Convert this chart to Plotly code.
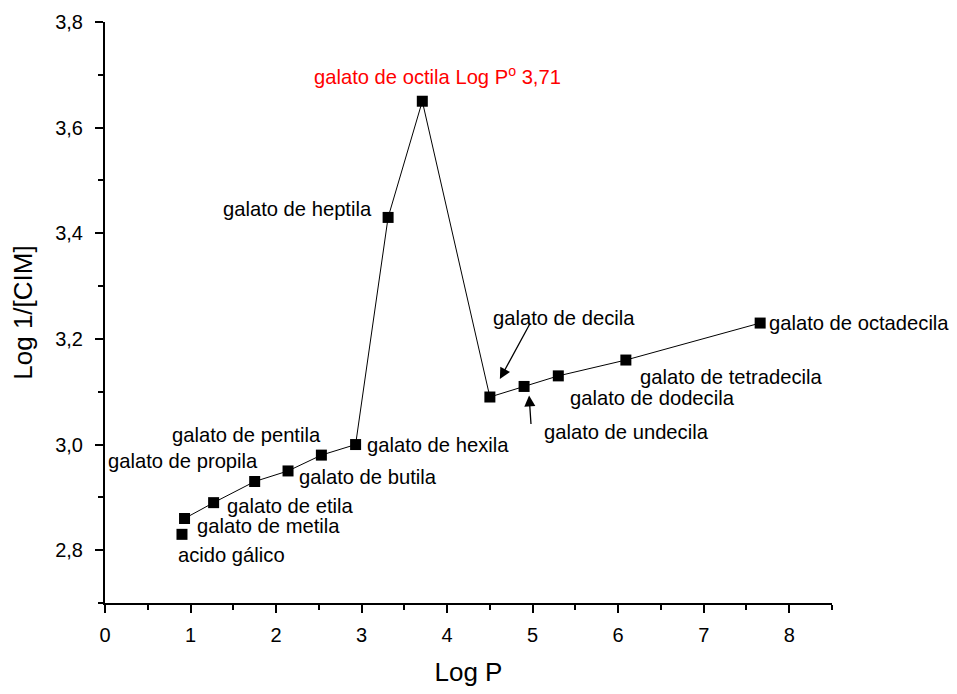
import plotly.graph_objects as go

# Data
names = ["acido gálico", "galato de metila", "galato de etila", "galato de propila",
         "galato de butila", "galato de pentila", "galato de hexila", "galato de heptila",
         "galato de octila", "galato de decila", "galato de undecila", "galato de dodecila",
         "galato de tetradecila", "galato de octadecila"]
log_p = [0.90, 0.93, 1.27, 1.75, 2.14, 2.53, 2.93, 3.31, 3.71, 4.50, 4.90, 5.30, 6.09, 7.66]
log_cim = [2.83, 2.86, 2.89, 2.93, 2.95, 2.98, 3.00, 3.43, 3.65, 3.09, 3.11, 3.13, 3.16, 3.23]

FONT = "Arial, Liberation Sans, sans-serif"

fig = go.Figure()
# connected series (galato de metila .. octadecila)
fig.add_trace(go.Scatter(x=log_p[1:], y=log_cim[1:], mode="lines+markers",
                         line=dict(color="black", width=1),
                         marker=dict(symbol="square", size=11, color="black"),
                         showlegend=False, hoverinfo="skip"))
# acido gálico (not connected)
fig.add_trace(go.Scatter(x=log_p[:1], y=log_cim[:1], mode="markers",
                         marker=dict(symbol="square", size=11, color="black"),
                         showlegend=False, hoverinfo="skip"))

# label placement: (xanchor, xshift, yshift)
place = [
    ("left", -6, -21),
    ("left", 10, -8),
    ("left", 11, -3),
    ("right", 5, 21),
    ("left", 9, -6),
    ("right", 2, 20),
    ("left", 9, 0),
    ("right", -14, 8),
    ("center", 15, 26),
    ("left", 1, 79),
    ("left", 18, -46),
    ("left", 10, -22),
    ("left", 12, -17),
    ("left", 7, 0),
]

annotations = []
for i, (nm, xv, yv) in enumerate(zip(names, log_p, log_cim)):
    xa, xs, ys = place[i]
    txt = nm
    color = "black"
    if nm == "galato de octila":
        txt = "galato de octila Log P<sup>o</sup> 3,71"
        color = "red"
    annotations.append(dict(x=xv, y=yv, xref="x", yref="y", text=txt, showarrow=False,
                            xanchor=xa, yanchor="middle", xshift=xs, yshift=ys,
                            font=dict(family=FONT, size=20.2, color=color)))

# arrows for decila and undecila
i_dec = names.index("galato de decila")
i_und = names.index("galato de undecila")
annotations.append(dict(x=log_p[i_dec], y=log_cim[i_dec], xref="x", yref="y", text="",
                        showarrow=True, ax=31, ay=-57, axref="pixel", ayref="pixel",
                        xshift=10, yshift=18, arrowhead=2, arrowsize=1.7, arrowwidth=1.3,
                        arrowcolor="black", standoff=0, startstandoff=0))
annotations.append(dict(x=log_p[i_und], y=log_cim[i_und], xref="x", yref="y", text="",
                        showarrow=True, ax=2, ay=30, axref="pixel", ayref="pixel",
                        xshift=5, yshift=-9, arrowhead=2, arrowsize=1.7, arrowwidth=1.3,
                        arrowcolor="black", standoff=0, startstandoff=0))

fig.update_layout(
    width=957, height=694,
    margin=dict(l=97, r=133, t=14, b=99),
    paper_bgcolor="white", plot_bgcolor="white",
    separators=",.",
    font=dict(family=FONT, size=20, color="black"),
    annotations=annotations,
)
fig.update_xaxes(range=[0, 8.5], dtick=1, tick0=0, ticks="outside", ticklen=8, tickwidth=2,
                 tickcolor="black", showline=True, linecolor="black", linewidth=2,
                 showgrid=False, zeroline=False, automargin=False, ticklabelstandoff=5,
                 minor=dict(dtick=0.5, ticks="outside", ticklen=5, tickwidth=1.5, tickcolor="black", showgrid=False),
                 tickfont=dict(size=20),
                 title=dict(text="Log P", font=dict(size=26), standoff=18))
fig.update_yaxes(range=[2.7, 3.8], dtick=0.2, tick0=2.8, ticks="outside", ticklen=8, tickwidth=2,
                 tickcolor="black", showline=True, linecolor="black", linewidth=2,
                 showgrid=False, zeroline=False, tickformat=".1f", automargin=False,
                 ticklabelstandoff=8,
                 minor=dict(dtick=0.1, ticks="outside", ticklen=5, tickwidth=1.5, tickcolor="black", showgrid=False),
                 tickfont=dict(size=20),
                 title=dict(text="Log 1/[CIM]", font=dict(size=26), standoff=20))

fig.write_html("out.html")
